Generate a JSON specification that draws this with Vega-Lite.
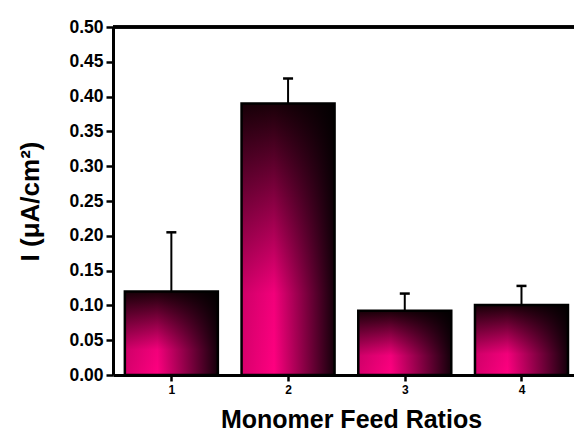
{
  "$schema": "https://vega.github.io/schema/vega-lite/v6.json",
  "width": 461,
  "height": 348,
  "autosize": {"type": "none"},
  "padding": {"left": 113, "top": 27, "right": 0, "bottom": 60},
  "background": "white",
  "config": {
    "view": {"stroke": null},
    "font": "Liberation Sans",
    "axis": {"grid": false, "domainColor": "black", "tickColor": "black", "labelColor": "black", "titleColor": "black", "labelFontWeight": "bold", "titleFontWeight": "bold"},
    "axisY": {"labelFontSize": 17.5, "labelOverlap": false, "tickSize": 7, "tickWidth": 2.5, "domainWidth": 3, "labelPadding": 3, "titleFontSize": 26, "titlePadding": 25},
    "axisX": {"labelFontSize": 12, "tickSize": 6, "tickWidth": 2.5, "domainWidth": 3, "labelPadding": 3, "titleFontSize": 25, "titlePadding": 12, "titleX": 238}
  },
  "data": {"values": [
    {"ratio": 1, "I": 0.12, "upper": 0.205},
    {"ratio": 2, "I": 0.39, "upper": 0.426},
    {"ratio": 3, "I": 0.0924, "upper": 0.117},
    {"ratio": 4, "I": 0.1006, "upper": 0.128}
  ]},
  "layer": [
    {
      "mark": {"type": "rule", "stroke": "black", "strokeWidth": 2},
      "encoding": {
        "x": {"field": "ratio", "type": "quantitative", "scale": {"domain": [0.5, 4.45], "nice": false, "zero": false, "padding": 0},
          "axis": {"title": "Monomer Feed Ratios", "values": [1, 2, 3, 4], "format": "d"}},
        "y": {"field": "I", "type": "quantitative", "scale": {"domain": [0, 0.5], "nice": false},
          "axis": {"title": "I (μA/cm²)", "values": [0, 0.05, 0.1, 0.15, 0.2, 0.25, 0.3, 0.35, 0.4, 0.45, 0.5], "format": ".2f"}},
        "y2": {"field": "upper"}
      }
    },
    {
      "mark": {"type": "tick", "orient": "horizontal", "size": 10, "thickness": 2.5, "color": "black", "opacity": 1},
      "encoding": {
        "x": {"field": "ratio", "type": "quantitative", "axis": {"title": "Monomer Feed Ratios", "values": [1, 2, 3, 4], "format": "d"}},
        "y": {"field": "upper", "type": "quantitative", "axis": {"title": "I (μA/cm²)", "values": [0, 0.05, 0.1, 0.15, 0.2, 0.25, 0.3, 0.35, 0.4, 0.45, 0.5], "format": ".2f"}}
      }
    },
    {
      "mark": {"type": "bar", "width": 93, "fill": {"gradient": "linear", "x1": 0, "y1": 1, "x2": 0, "y2": 0, "stops": [
        {"offset": 0, "color": "#ff0080"},
        {"offset": 0.3, "color": "#f2007a"},
        {"offset": 1, "color": "#1a0008"}
      ]}},
      "encoding": {
        "x": {"field": "ratio", "type": "quantitative", "axis": {"title": "Monomer Feed Ratios", "values": [1, 2, 3, 4], "format": "d"}},
        "y": {"field": "I", "type": "quantitative", "axis": {"title": "I (μA/cm²)", "values": [0, 0.05, 0.1, 0.15, 0.2, 0.25, 0.3, 0.35, 0.4, 0.45, 0.5], "format": ".2f"}}
      }
    },
    {
      "mark": {"type": "bar", "width": 93, "stroke": "black", "strokeWidth": 2.5, "fill": {"gradient": "linear", "x1": 0, "y1": 0, "x2": 1, "y2": 0, "stops": [
        {"offset": 0, "color": "rgba(0,0,0,0.15)"},
        {"offset": 0.35, "color": "rgba(0,0,0,0)"},
        {"offset": 1, "color": "rgba(0,0,0,0.92)"}
      ]}},
      "encoding": {
        "x": {"field": "ratio", "type": "quantitative", "axis": {"title": "Monomer Feed Ratios", "values": [1, 2, 3, 4], "format": "d"}},
        "y": {"field": "I", "type": "quantitative", "axis": {"title": "I (μA/cm²)", "values": [0, 0.05, 0.1, 0.15, 0.2, 0.25, 0.3, 0.35, 0.4, 0.45, 0.5], "format": ".2f"}}
      }
    },
    {
      "mark": {"type": "rule", "stroke": "black", "strokeWidth": 3},
      "encoding": {"y": {"datum": 0.5, "axis": {"title": "I (μA/cm²)", "values": [0, 0.05, 0.1, 0.15, 0.2, 0.25, 0.3, 0.35, 0.4, 0.45, 0.5], "format": ".2f"}}}
    }
  ]
}
